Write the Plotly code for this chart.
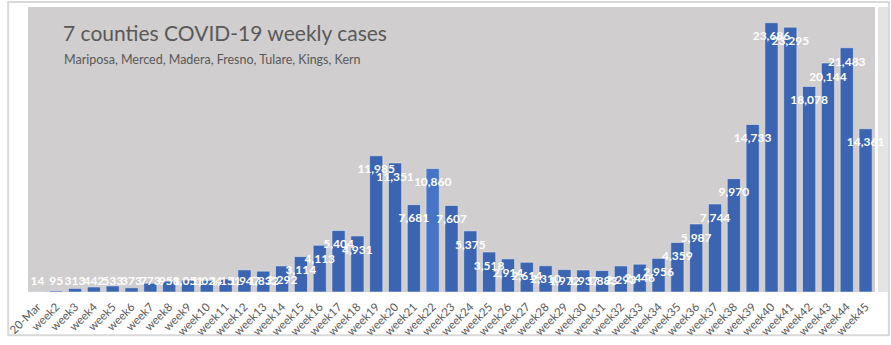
import plotly.graph_objects as go

weeks = ["20-Mar"] + [f"week{i}" for i in range(2, 46)]
cases = [14, 95, 313, 442, 533, 373, 773, 958, 1051, 1024, 1151, 1947, 1832, 2292,
         3114, 4113, 5404, 4931, 11985, 11351, 7681, 10860, 7607, 5375, 3518, 2914,
         2614, 2310, 1972, 1937, 1883, 2293, 2446, 2956, 4359, 5987, 7744, 9970,
         14733, 23686, 23295, 18078, 20144, 21483, 14361]

title_text = "7 counties COVID-19 weekly cases"
subtitle_text = "Mariposa, Merced, Madera, Fresno, Tulare, Kings, Kern"

W, H = 891, 345
ML, MR, MT, MB = 21, 16, 7, 48
plot_w = W - ML - MR
plot_h = H - MT - MB

Y_MAX = 25070
PX = Y_MAX / plot_h  # data units per pixel of plot height

bar_colors = ["#3b65b2"] * len(cases)
bar_colors[weeks.index("week22")] = "#4674c6"

# labels sit just inside the top of each bar, never lower than the baseline band
label_y = [max(v - 15 * PX, 10 * PX) for v in cases]
labels = [f"{v:,}" for v in cases]


def px_x(x):
    return (x - ML) / plot_w


def px_y(y):
    return 1 - (y - MT) / plot_h


fig = go.Figure()
fig.add_trace(go.Bar(
    x=weeks, y=cases,
    marker=dict(color=bar_colors, line=dict(color="rgba(235,235,240,0.55)", width=1)),
    width=0.7,
    hoverinfo="x+y",
))
fig.add_trace(go.Scatter(
    x=weeks, y=label_y, text=labels, mode="text",
    textposition="middle center",
    textfont=dict(family="Lato", size=12, color="white", weight="bold"),
    hoverinfo="skip", cliponaxis=False,
))

fig.update_layout(
    width=W, height=H,
    margin=dict(l=ML, r=MR, t=MT, b=MB),
    paper_bgcolor="white",
    plot_bgcolor="#d0cece",
    showlegend=False,
    xaxis=dict(
        tickangle=-45, tickfont=dict(family="Lato", size=11.5, color="#595959"),
        showline=False, showgrid=False, ticks="", range=[-0.5, len(weeks) - 0.5],
        ticklabelstandoff=5, fixedrange=True,
    ),
    yaxis=dict(visible=False, range=[0, Y_MAX], fixedrange=True),
    annotations=[
        dict(text=title_text, x=px_x(54), y=px_y(48), xref="paper", yref="paper",
             showarrow=False, xanchor="left", yanchor="bottom",
             font=dict(family="Lato", size=21, color="#595959")),
        dict(text=subtitle_text, x=px_x(55), y=px_y(51), xref="paper", yref="paper",
             showarrow=False, xanchor="left", yanchor="top",
             font=dict(family="Lato", size=12.5, color="#595959")),
    ],
)

# pale strip to the right of the plot area
fig.add_shape(type="rect", xref="paper", yref="paper",
              x0=px_x(878), x1=px_x(888), y0=px_y(297), y1=px_y(7),
              line=dict(width=0), fillcolor="#e4e4e4", layer="below")
# light frame around the whole chart
fig.add_shape(type="rect", xref="paper", yref="paper",
              x0=px_x(1), x1=px_x(889), y0=px_y(341), y1=px_y(2),
              line=dict(color="#d9d9d9", width=2), fillcolor="rgba(0,0,0,0)", layer="below")

fig.write_html("out.html")
